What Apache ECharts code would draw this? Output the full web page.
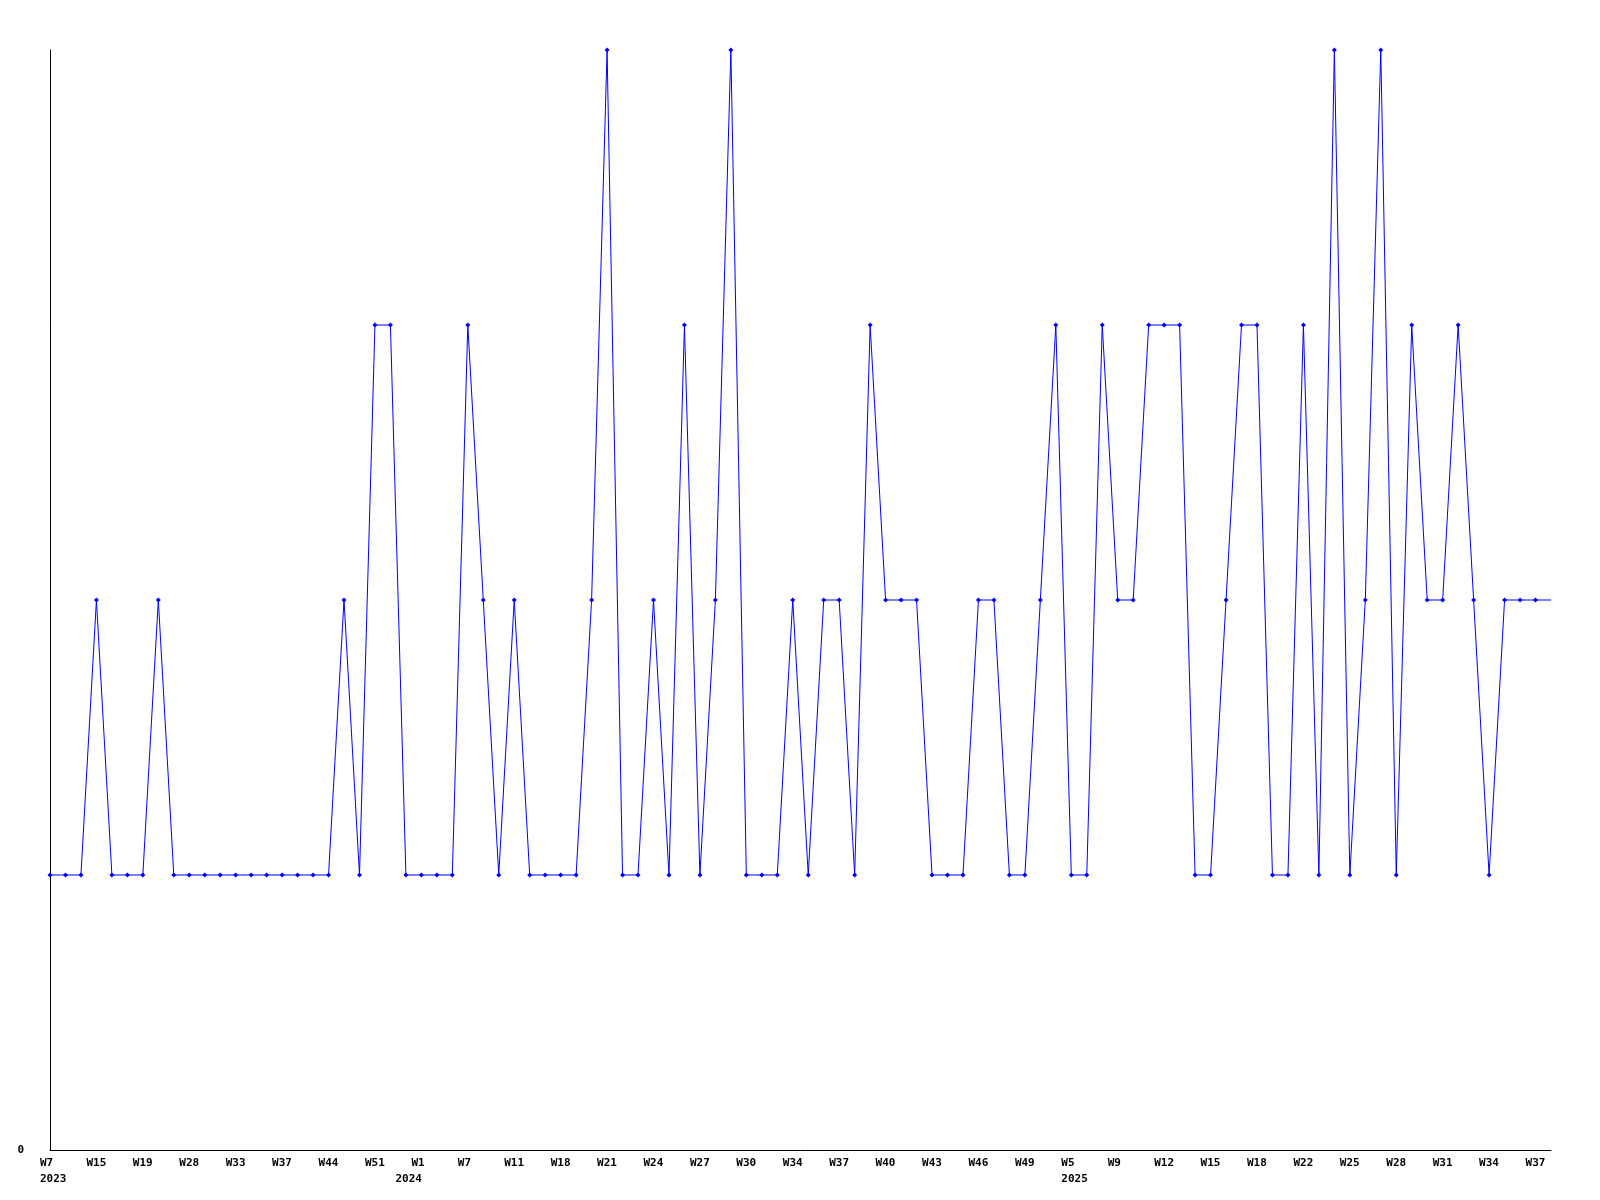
<!DOCTYPE html>
<html>
<head>
<meta charset="utf-8">
<script src="https://cdn.jsdelivr.net/npm/echarts@6/dist/echarts.min.js"></script>
<style>
  html, body { margin: 0; padding: 0; background: #fff; }
  #chart { width: 1600px; height: 1200px; }
</style>
</head>
<body>
<div id="chart"></div>
<script>
// Week categories (year-week); only every third one is labelled on the axis
const categories = [
  '2023-W7','2023-W9','2023-W12','2023-W15','2023-W16','2023-W17','2023-W19','2023-W22','2023-W25','2023-W28',
  '2023-W30','2023-W31','2023-W33','2023-W34','2023-W35','2023-W37','2023-W39','2023-W41','2023-W44','2023-W46',
  '2023-W48','2023-W51','2023-W52','2023-W53',
  '2024-W1','2024-W3','2024-W5','2024-W7','2024-W8','2024-W10','2024-W11','2024-W13','2024-W15','2024-W18',
  '2024-W19','2024-W20','2024-W21','2024-W22','2024-W23','2024-W24','2024-W25','2024-W26','2024-W27','2024-W28',
  '2024-W29','2024-W30','2024-W31','2024-W32','2024-W34','2024-W35','2024-W36','2024-W37','2024-W38','2024-W39',
  '2024-W40','2024-W41','2024-W42','2024-W43','2024-W44','2024-W45','2024-W46','2024-W47','2024-W48','2024-W49',
  '2024-W51',
  '2025-W2','2025-W5','2025-W7','2025-W8','2025-W9','2025-W10','2025-W11','2025-W12','2025-W13','2025-W14',
  '2025-W15','2025-W16','2025-W17','2025-W18','2025-W19','2025-W21','2025-W22','2025-W23','2025-W24','2025-W25',
  '2025-W26','2025-W27','2025-W28','2025-W29','2025-W30','2025-W31','2025-W32','2025-W33','2025-W34','2025-W35',
  '2025-W36','2025-W37','2025-W38'
];

// Values per week
const values = [
  1,1,1,2,1,1,1,2,1,1,
  1,1,1,1,1,1,1,1,1,2,
  1,3,3,1,1,1,1,3,2,1,
  2,1,1,1,1,2,4,1,1,2,
  1,3,1,2,4,1,1,1,2,1,
  2,2,1,3,2,2,2,1,1,1,
  2,2,1,1,2,3,1,1,3,2,
  2,3,3,3,1,1,2,3,3,1,
  1,3,1,4,1,2,4,1,3,2,
  2,3,2,1,2,2,2,2
];

// Category indices where the year is printed under the week label
const yearLabelIndices = [0, 24, 66];

// Y axis range / tick labels
const yMin = 0;
const yMax = 4;
const yTickLabels = ['0'];

const chart = echarts.init(document.getElementById('chart'), null, { renderer: 'canvas' });

const seriesData = values.map((v, i) =>
  i === values.length - 1 ? { value: v, symbol: 'none' } : v
);

const font = { fontFamily: 'DejaVu Sans Mono', fontWeight: 'bold', fontSize: 11, color: '#000' };

chart.setOption({
  animation: false,
  backgroundColor: '#ffffff',
  grid: { left: 50, right: 49, top: 50, bottom: 50, containLabel: false },
  xAxis: {
    type: 'category',
    data: categories,
    boundaryGap: false,
    axisLine: { show: true, lineStyle: { color: '#000', width: 1 } },
    axisTick: { show: false },
    splitLine: { show: false },
    axisLabel: Object.assign({}, font, {
      interval: 2,
      margin: 5,
      lineHeight: 16,
      align: 'left',
      padding: [0, 0, 0, -10],
      hideOverlap: false,
      formatter: function (value, index) {
        const parts = value.split('-');
        if (yearLabelIndices.indexOf(index) >= 0) {
          const yStyle = parts[0] === '2024' ? 'yshift' : 'y';
          return '{w|' + parts[1] + '}\n{' + yStyle + '|' + parts[0] + '}';
        }
        return parts[1];
      },
      rich: {
        w: Object.assign({}, font, { lineHeight: 16 }),
        y: Object.assign({}, font, { lineHeight: 16 }),
        yshift: Object.assign({}, font, { lineHeight: 16, padding: [0, 0, 0, -16] })
      }
    })
  },
  yAxis: {
    type: 'value',
    min: yMin,
    max: yMax,
    interval: yMax,
    axisLine: { show: true, lineStyle: { color: '#000', width: 1 } },
    axisTick: { show: false },
    splitLine: { show: false },
    axisLabel: Object.assign({}, font, {
      margin: 26,
      formatter: function (v) {
        return yTickLabels.indexOf(String(v)) >= 0 ? String(v) : '';
      }
    })
  },
  series: [{
    type: 'line',
    data: seriesData,
    symbol: 'diamond',
    symbolSize: 5,
    showAllSymbol: true,
    lineStyle: { color: '#0000ff', width: 1 },
    itemStyle: { color: '#0000ff' },
    emphasis: { disabled: true }
  }]
});
</script>
</body>
</html>
